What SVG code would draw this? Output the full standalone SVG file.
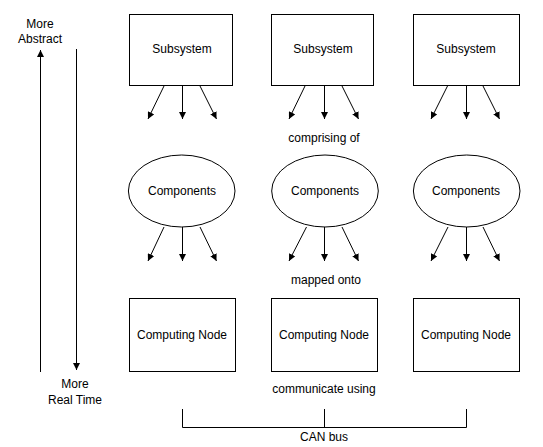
<svg xmlns="http://www.w3.org/2000/svg" width="543" height="447" viewBox="0 0 543 447">
<defs>
<marker id="ah" viewBox="0 0 10 10" refX="10" refY="5" markerWidth="7" markerHeight="7" markerUnits="userSpaceOnUse" orient="auto">
<path d="M0,0 L10,5 L0,10 Z" fill="#000"/>
</marker>
<style>
.n{fill:#fff;stroke:#000;stroke-width:1}
.t{font-family:"Liberation Sans",Arial,sans-serif;font-size:12px;fill:#000;text-anchor:middle}
.c{stroke:#000;stroke-width:1;fill:none}
.a{stroke:#000;stroke-width:1;fill:none;marker-end:url(#ah)}
</style>
</defs>
<rect width="543" height="447" fill="#fff"/>
<g id="sub1"><rect class="n" x="129.5" y="14.5" width="103" height="71"/><text class="t" x="182" y="53">Subsystem</text></g>
<g id="sub2"><rect class="n" x="271.5" y="14.5" width="102" height="71"/><text class="t" x="323" y="53">Subsystem</text></g>
<g id="sub3"><rect class="n" x="413.5" y="14.5" width="106" height="71"/><text class="t" x="466" y="53">Subsystem</text></g>
<g id="comp1"><ellipse class="n" cx="181.7" cy="191" rx="53.3" ry="36"/><text class="t" x="182" y="195">Components</text></g>
<g id="comp2"><ellipse class="n" cx="325" cy="191" rx="53.3" ry="36"/><text class="t" x="325" y="195">Components</text></g>
<g id="comp3"><ellipse class="n" cx="466.7" cy="191" rx="53.3" ry="36"/><text class="t" x="466" y="195">Components</text></g>
<g id="node1"><rect class="n" x="129.5" y="298.5" width="106" height="73"/><text class="t" x="182" y="339">Computing Node</text></g>
<g id="node2"><rect class="n" x="271.5" y="298.5" width="106" height="73"/><text class="t" x="324" y="339">Computing Node</text></g>
<g id="node3"><rect class="n" x="413.5" y="298.5" width="106" height="73"/><text class="t" x="466" y="339">Computing Node</text></g>
<g id="connectors">
<line class="a" x1="164" y1="86" x2="148" y2="119"/>
<line class="a" x1="182.5" y1="86" x2="182.5" y2="119"/>
<line class="a" x1="200" y1="86" x2="216.5" y2="119"/>
<line class="a" x1="305" y1="86" x2="289" y2="119"/>
<line class="a" x1="324.5" y1="86" x2="324.5" y2="119"/>
<line class="a" x1="342" y1="86" x2="358.5" y2="119"/>
<line class="a" x1="447.5" y1="86" x2="431" y2="119"/>
<line class="a" x1="466.5" y1="86" x2="466.5" y2="119"/>
<line class="a" x1="483" y1="86" x2="499.5" y2="119"/>
<line class="a" x1="164" y1="227" x2="148" y2="261"/>
<line class="a" x1="182.5" y1="227" x2="182.5" y2="261"/>
<line class="a" x1="200" y1="227" x2="216.5" y2="261"/>
<line class="a" x1="306.5" y1="227" x2="289" y2="261"/>
<line class="a" x1="324.5" y1="227" x2="324.5" y2="261"/>
<line class="a" x1="342" y1="227" x2="358.5" y2="261"/>
<line class="a" x1="448" y1="227" x2="431" y2="261"/>
<line class="a" x1="466.5" y1="227" x2="466.5" y2="261"/>
<line class="a" x1="483" y1="227" x2="499.5" y2="261"/>
<line class="a" x1="40.5" y1="372" x2="40.5" y2="50"/>
<line class="a" x1="76.5" y1="49" x2="76.5" y2="370"/>
<path class="c" d="M182.5,409 V427.5 H466.5 V409 M324.5,409 V427.5"/>
</g>
<text class="t" x="40" y="28">More</text>
<text class="t" x="40" y="43">Abstract</text>
<text class="t" x="75" y="388">More</text>
<text class="t" x="75" y="404">Real Time</text>
<text class="t" x="324" y="142">comprising of</text>
<text class="t" x="326" y="284">mapped onto</text>
<text class="t" x="324" y="393">communicate using</text>
<text class="t" x="324" y="441">CAN bus</text>
</svg>
